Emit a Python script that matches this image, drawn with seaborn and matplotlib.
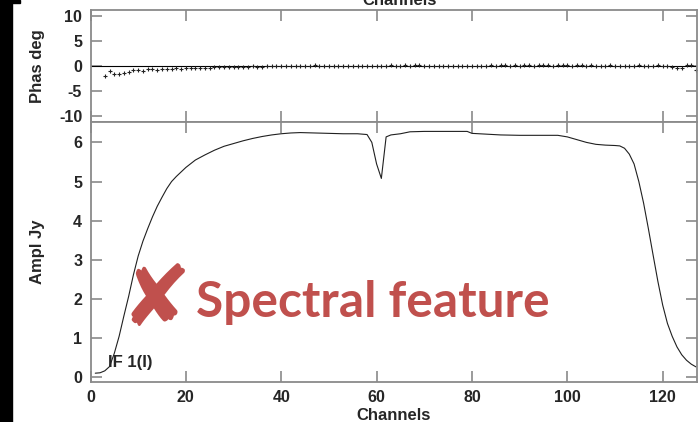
import matplotlib
matplotlib.use("Agg")
import matplotlib.pyplot as plt
import seaborn as sns
import pandas as pd
from matplotlib.patches import Rectangle

# Amplitude spectrum (Jy) sampled along the channel axis
amp_channels = [1, 2, 3, 4, 5, 6, 7, 8, 9, 10, 11, 12, 13, 14, 15, 16, 17, 18,
                20, 22, 24, 26, 28, 30, 32, 34, 36, 38, 40, 42, 44, 47, 50, 53,
                56, 57, 58, 59, 60, 61, 62, 63, 65, 67, 70, 75, 79, 80, 83, 86,
                90, 95, 98, 100, 102, 104, 106, 108, 110, 111, 112, 113, 114,
                115, 116, 117, 118, 119, 120, 121, 122, 123, 124, 125, 126, 127]
amp_values = [0.11, 0.12, 0.17, 0.28, 0.62, 1.05, 1.57, 2.07, 2.62, 3.10, 3.48,
              3.80, 4.10, 4.37, 4.60, 4.82, 5.00, 5.13, 5.36, 5.55, 5.68, 5.80,
              5.90, 5.97, 6.04, 6.10, 6.15, 6.19, 6.22, 6.24, 6.25, 6.24, 6.23,
              6.22, 6.22, 6.21, 6.20, 6.00, 5.45, 5.08, 6.14, 6.19, 6.22, 6.27,
              6.28, 6.28, 6.28, 6.23, 6.21, 6.19, 6.18, 6.18, 6.18, 6.14, 6.07,
              6.00, 5.95, 5.93, 5.92, 5.91, 5.85, 5.70, 5.45, 5.00, 4.45, 3.80,
              3.12, 2.45, 1.85, 1.38, 1.05, 0.78, 0.58, 0.44, 0.34, 0.27]

# Phase per channel (deg), channels 3..127
phase_channels = list(range(3, 128))
phase_values = [
    -2.0, -1.0, -1.5, -1.6, -1.3, -1.1, -0.8, -0.8, -0.9, -0.6, -0.6, -0.7,
    -0.5, -0.5, -0.6, -0.4, -0.5, -0.4, -0.3, -0.4, -0.3, -0.3, -0.3, -0.2,
    -0.2, -0.2, -0.1, -0.2, -0.1, -0.1, -0.1, 0.0, -0.1, -0.1, 0.0, 0.0, 0.0,
    0.0, 0.1, 0.0, 0.1, 0.0, 0.0, 0.1, 0.2, 0.1, 0.1, 0.0, 0.1, 0.0, 0.0,
    0.1, 0.0, 0.0, 0.1, 0.1, 0.0,
    0.1, 0.0, 0.1, 0.2, 0.1, 0.1, 0.2, 0.1, 0.2, 0.3, 0.1, 0.0, 0.1, 0.1,
    0.0, 0.1, 0.0, 0.1, 0.1, 0.0,
    0.1, 0.1, 0.0, 0.1, 0.2, 0.1, 0.2, 0.2, 0.1, 0.2, 0.1, 0.2, 0.2, 0.1,
    0.2, 0.2, 0.2, 0.1, 0.2, 0.2,
    0.2, 0.1, 0.2, 0.2, 0.1, 0.2, 0.1, 0.1, 0.1, 0.2, 0.1, 0.1, 0.0, 0.1,
    0.1, 0.2, 0.1, 0.1, 0.1, 0.2,
    0.1, 0.0, -0.2, -0.3, -0.3, 0.2, 0.3, -0.8,
]

x_ticks = [0, 20, 40, 60, 80, 100, 120]
phase_ticks = [-10, -5, 0, 5, 10]
amp_ticks = [0, 1, 2, 3, 4, 5, 6]

amp_df = pd.DataFrame({"channel": amp_channels, "amp": amp_values})
phase_df = pd.DataFrame({"channel": phase_channels, "phase": phase_values})

sns.set_style("ticks")
plt.rcParams["font.family"] = ["Liberation Sans", "DejaVu Sans"]
plt.rcParams["font.weight"] = "bold"
plt.rcParams["axes.unicode_minus"] = False

W, H = 698, 422
fig = plt.figure(figsize=(W / 100, H / 100), dpi=100)
fig.patch.set_facecolor("white")

left = 90.5 / W
width = (697 - 90.5) / W
ax_ph = fig.add_axes([left, 1 - 122 / H, width, 112 / H])
ax_am = fig.add_axes([left, 1 - 382 / H, width, 260 / H])

frame_col = "#8a8a8a"
for ax in (ax_ph, ax_am):
    ax.set_xlim(0, 127.2)
    ax.set_xticks(x_ticks)
    ax.tick_params(direction="in", length=8, width=1.2, color=frame_col,
                   top=True, right=True, labelsize=11.5, pad=6)
    for s in ax.spines.values():
        s.set_color(frame_col)
        s.set_linewidth(1.3)

# Phase panel
ax_ph.axhline(0, color="black", lw=0.8, zorder=1)
sns.scatterplot(data=phase_df, x="channel", y="phase", ax=ax_ph, marker="+",
                color="#222222", s=10, linewidth=0.8, legend=False, zorder=2)
ax_ph.set_ylim(-11.2, 11.2)
ax_ph.set_yticks(phase_ticks)
ax_ph.set_xticklabels([])
ax_ph.set_xlabel("")
ax_ph.set_ylabel("Phas deg", fontsize=12, fontweight="bold", labelpad=10)
for lab in ax_ph.get_yticklabels():
    lab.set_fontweight("bold")

# Amplitude panel
sns.lineplot(data=amp_df, x="channel", y="amp", ax=ax_am, color="#202020",
             lw=0.8, legend=False)
ax_am.set_ylim(-0.115, 6.52)
ax_am.set_yticks(amp_ticks)
ax_am.set_xlabel("Channels", fontsize=12, fontweight="bold", labelpad=2)
ax_am.set_ylabel("Ampl Jy", fontsize=12, fontweight="bold", labelpad=20)
for lab in ax_am.get_xticklabels() + ax_am.get_yticklabels():
    lab.set_fontweight("bold")
ax_am.text(108 / W, 1 - 363 / H, "IF 1(I)", transform=fig.transFigure,
           fontsize=12, fontweight="bold", va="center", ha="left")

# Axis title of the upper panel, running off the top edge
fig.text(400 / W, 1 - 5 / H, "Channels", fontsize=12, fontweight="bold",
         ha="center", va="baseline")

# Highlight callout
red = "#C0504D"
fig.text(156 / W, 1 - 302 / H, "\u2718", color=red, fontsize=61,
         family="DejaVu Sans", ha="center", va="center")
fig.text(196 / W, 1 - 317 / H, "Spectral feature", color=red, fontsize=35.7,
         family="Lato", fontweight="bold", ha="left", va="baseline")

# Dark edge strip on the left
fig.add_artist(Rectangle((0, 0), 12 / W, 1, transform=fig.transFigure,
                         color="black", zorder=10))
fig.add_artist(Rectangle((0, 1 - 3 / H), 20 / W, 3 / H,
                         transform=fig.transFigure, color="black", zorder=10))

fig.savefig("out.png", dpi=100)
